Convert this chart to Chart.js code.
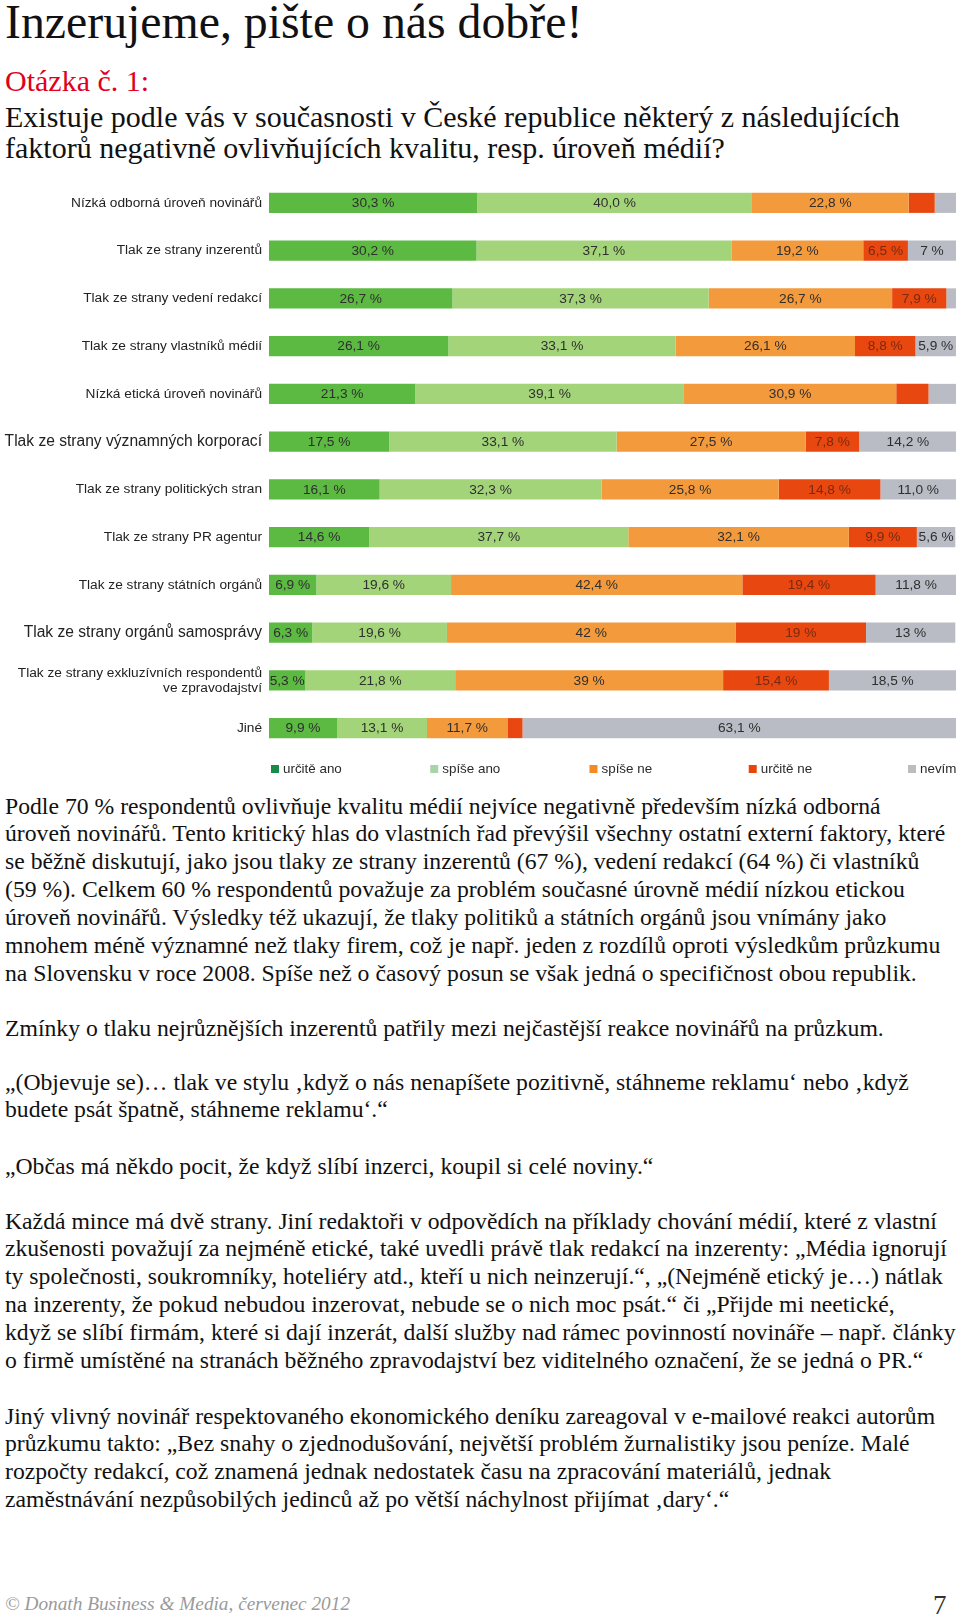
<!DOCTYPE html>
<html>
<head>
<meta charset="utf-8">
<script src="https://cdn.jsdelivr.net/npm/chart.js@4/dist/chart.umd.min.js"></script>
<style>
  body { margin: 0; background: #fff; width: 960px; height: 1617px; position: relative; overflow: hidden; }
  .serif { font-family: "Liberation Serif", "DejaVu Serif", serif; color: #111; position: absolute; left: 5px; white-space: nowrap; }
  .title { font-size: 47.8px; line-height: 47.8px; top: -2px; }
  .q { font-size: 30px; line-height: 31px; }
  .p { font-size: 23.7px; line-height: 27.84px; }
  #chartBox { position: absolute; left: 0; top: 170px; width: 960px; height: 615px; }
  .foot { font-size: 19.3px; line-height: 24px; font-style: italic; color: #9a9a9a; top: 1592px; }
  .page { font-size: 27px; line-height: 30px; color: #333; position: absolute; left: 933px; top: 1590px; font-family: "Liberation Serif", serif; }
</style>
</head>
<body>
<div class="serif title">Inzerujeme, pište o nás dobře!</div>
<div class="serif q" style="top:65px;color:#e0001b">Otázka č. 1:</div>
<div class="serif q" style="top:101px">Existuje podle vás v současnosti v České republice některý z následujících<br>faktorů negativně ovlivňujících kvalitu, resp. úroveň médií?</div>

<div id="chartBox"><canvas id="chart"></canvas></div>

<div class="serif p" style="top:792.5px">Podle 70 % respondentů ovlivňuje kvalitu médií nejvíce negativně především nízká odborná<br>úroveň novinářů. Tento kritický hlas do vlastních řad převýšil všechny ostatní externí faktory, které<br>se běžně diskutují, jako jsou tlaky ze strany inzerentů (67 %), vedení redakcí (64 %) či vlastníků<br>(59 %). Celkem 60 % respondentů považuje za problém současné úrovně médií nízkou etickou<br>úroveň novinářů. Výsledky též ukazují, že tlaky politiků a státních orgánů jsou vnímány jako<br>mnohem méně významné než tlaky firem, což je např. jeden z rozdílů oproti výsledkům průzkumu<br>na Slovensku v roce 2008. Spíše než o časový posun se však jedná o specifičnost obou republik.</div>
<div class="serif p" style="top:1014.5px">Zmínky o tlaku nejrůznějších inzerentů patřily mezi nejčastější reakce novinářů na průzkum.</div>
<div class="serif p" style="top:1068.5px">„(Objevuje se)… tlak ve stylu ‚když o nás nenapíšete pozitivně, stáhneme reklamu‘ nebo ‚když<br>budete psát špatně, stáhneme reklamu‘.“</div>
<div class="serif p" style="top:1152.5px">„Občas má někdo pocit, že když slíbí inzerci, koupil si celé noviny.“</div>
<div class="serif p" style="top:1207.5px">Každá mince má dvě strany. Jiní redaktoři v odpovědích na příklady chování médií, které z vlastní<br>zkušenosti považují za nejméně etické, také uvedli právě tlak redakcí na inzerenty: „Média ignorují<br>ty společnosti, soukromníky, hoteliéry atd., kteří u nich neinzerují.“, „(Nejméně etický je…) nátlak<br>na inzerenty, že pokud nebudou inzerovat, nebude se o nich moc psát.“ či „Přijde mi neetické,<br>když se slíbí firmám, které si dají inzerát, další služby nad rámec povinností novináře – např. články<br>o firmě umístěné na stranách běžného zpravodajství bez viditelného označení, že se jedná o PR.“</div>
<div class="serif p" style="top:1402.5px">Jiný vlivný novinář respektovaného ekonomického deníku zareagoval v e-mailové reakci autorům<br>průzkumu takto: „Bez snahy o zjednodušování, největší problém žurnalistiky jsou peníze. Malé<br>rozpočty redakcí, což znamená jednak nedostatek času na zpracování materiálů, jednak<br>zaměstnávání nezpůsobilých jedinců až po větší náchylnost přijímat ‚dary‘.“</div>

<div class="serif foot">© Donath Business &amp; Media, červenec 2012</div>
<div class="page">7</div>

<script>
// categories (rows, top to bottom)
const categories = [
    "Nízká odborná úroveň novinářů",
    "Tlak ze strany inzerentů",
    "Tlak ze strany vedení redakcí",
    "Tlak ze strany vlastníků médií",
    "Nízká etická úroveň novinářů",
    "Tlak ze strany významných korporací",
    "Tlak ze strany politických stran",
    "Tlak ze strany PR agentur",
    "Tlak ze strany státních orgánů",
    "Tlak ze strany orgánů samosprávy",
    ["Tlak ze strany exkluzívních respondentů", "ve zpravodajství"],
    "Jiné"
];

const seriesNames = ["určitě ano", "spíše ano", "spíše ne", "určitě ne", "nevím"];

// values in %
const urciteAno = [30.3, 30.2, 26.7, 26.1, 21.3, 17.5, 16.1, 14.6, 6.9, 6.3, 5.3, 9.9];
const spiseAno  = [40.0, 37.1, 37.3, 33.1, 39.1, 33.1, 32.3, 37.7, 19.6, 19.6, 21.8, 13.1];
const spiseNe   = [22.8, 19.2, 26.7, 26.1, 30.9, 27.5, 25.8, 32.1, 42.4, 42, 39, 11.7];
const urciteNe  = [3.8, 6.5, 7.9, 8.8, 4.7, 7.8, 14.8, 9.9, 19.4, 19, 15.4, 2.2];
const nevim     = [3.1, 7, 1.4, 5.9, 4.0, 14.2, 11.0, 5.6, 11.8, 13, 18.5, 63.1];

// labels printed on the segments (empty = not shown)
const txtUrciteAno = ["30,3 %", "30,2 %", "26,7 %", "26,1 %", "21,3 %", "17,5 %", "16,1 %", "14,6 %", "6,9 %", "6,3 %", "5,3 %", "9,9 %"];
const txtSpiseAno  = ["40,0 %", "37,1 %", "37,3 %", "33,1 %", "39,1 %", "33,1 %", "32,3 %", "37,7 %", "19,6 %", "19,6 %", "21,8 %", "13,1 %"];
const txtSpiseNe   = ["22,8 %", "19,2 %", "26,7 %", "26,1 %", "30,9 %", "27,5 %", "25,8 %", "32,1 %", "42,4 %", "42 %", "39 %", "11,7 %"];
const txtUrciteNe  = ["", "6,5 %", "7,9 %", "8,8 %", "", "7,8 %", "14,8 %", "9,9 %", "19,4 %", "19 %", "15,4 %", ""];
const txtNevim     = ["", "7 %", "", "5,9 %", "", "14,2 %", "11,0 %", "5,6 %", "11,8 %", "13 %", "18,5 %", "63,1 %"];

const barColors    = ["#5cb942", "#a3d47a", "#f39a3c", "#e8470f", "#b9bcc4"];
const legendColors = ["#168c48", "#a8d5a8", "#f58a1e", "#e8440c", "#bdbdbd"];
const textColors   = ["#2f2f2f", "#2f2f2f", "#2f2f2f", "#7a2a12", "#2f2f2f"];

const values = [urciteAno, spiseAno, spiseNe, urciteNe, nevim];
const texts = [txtUrciteAno, txtSpiseAno, txtSpiseNe, txtUrciteNe, txtNevim];

const SANS = "'Liberation Sans', Arial, sans-serif";

// draws the percentage text in the middle of each segment
const segmentLabels = {
    id: "segmentLabels",
    afterDatasetsDraw(chart) {
        const ctx = chart.ctx;
        ctx.save();
        ctx.font = "13.7px " + SANS;
        ctx.textAlign = "center";
        ctx.textBaseline = "middle";
        chart.data.datasets.forEach((ds, i) => {
            ctx.fillStyle = textColors[i];
            chart.getDatasetMeta(i).data.forEach((bar, j) => {
                const t = texts[i][j];
                if (!t) return;
                ctx.fillText(t, (bar.x + bar.base) / 2, bar.y + 0.5);
            });
        });
        ctx.restore();
    }
};

// legend row under the bars, spread over the plot width
const legendRow = {
    id: "legendRow",
    afterDraw(chart) {
        const ctx = chart.ctx;
        const area = chart.chartArea;
        const step = area.width * 0.2318;
        const y = area.bottom + 17;
        ctx.save();
        ctx.font = "13.4px " + SANS;
        ctx.textBaseline = "middle";
        seriesNames.forEach((name, i) => {
            const x = area.left + 2 + i * step;
            ctx.fillStyle = legendColors[i];
            ctx.fillRect(x, y - 4, 8, 8);
            ctx.fillStyle = "#2a2a2a";
            ctx.fillText(name, x + 12, y + 0.5);
        });
        ctx.restore();
    }
};

new Chart(document.getElementById("chart"), {
    type: "bar",
    data: {
        labels: categories,
        datasets: values.map((v, i) => ({
            label: seriesNames[i],
            data: v,
            backgroundColor: barColors[i],
            borderWidth: 0,
            categoryPercentage: 1,
            barPercentage: 0.42
        }))
    },
    options: {
        indexAxis: "y",
        responsive: true,
        maintainAspectRatio: false,
        animation: false,
        layout: { padding: { top: 9, right: 4, bottom: 33, left: 0 } },
        plugins: { legend: { display: false }, tooltip: { enabled: false } },
        scales: {
            x: { stacked: true, min: 0, max: 100, display: false },
            y: {
                stacked: true,
                grid: { display: false, drawTicks: false },
                border: { display: false },
                afterFit(scale) {
                    scale.width = 269;
                    scale.paddingTop = 0;
                    scale.paddingBottom = 0;
                },
                ticks: {
                    padding: 7,
                    color: "#222",
                    autoSkip: false,
                    font: (c) => ({ family: SANS, size: (c.index === 5 || c.index === 9) ? 15.6 : 13.7, lineHeight: 1.08 })
                }
            }
        }
    },
    plugins: [segmentLabels, legendRow]
});
</script>
</body>
</html>
